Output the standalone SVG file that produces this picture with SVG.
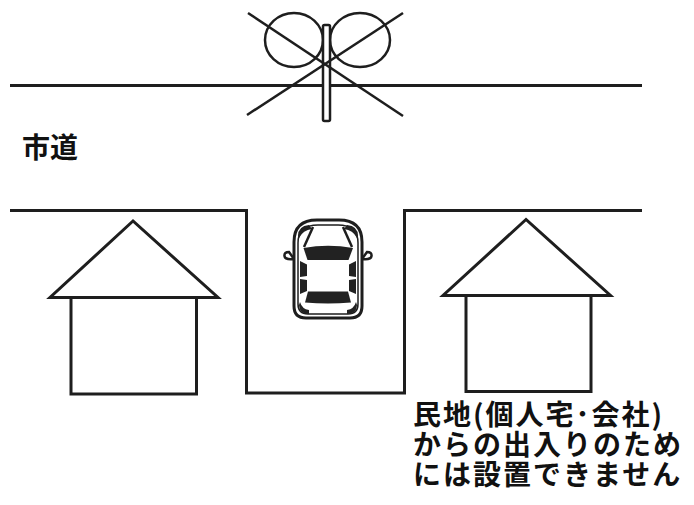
<svg xmlns="http://www.w3.org/2000/svg" width="694" height="505" viewBox="0 0 694 505">
  <style>
    .ln { fill: none; stroke: #1e1e1e; stroke-width: 3; stroke-linejoin: miter; }
    .thin { fill: none; stroke: #1e1e1e; stroke-width: 2.5; }
    .wh { fill: #ffffff; stroke: #1e1e1e; stroke-width: 2.5; }
    .blk { fill: #222222; stroke: none; }
    .lbl { font-family: "Noto Sans CJK JP", "Noto Sans", sans-serif; font-weight: bold; fill: #111111; }
  </style>
  <rect width="694" height="505" fill="#ffffff"/>

  <!-- road edge and frontage -->
  <g id="road">
    <line class="ln" x1="10" y1="85.5" x2="642" y2="85.5"/>
    <path class="ln" d="M10,210.5 H246.5 V393 H404.5 V210.5 H642"/>
  </g>

  <!-- crossed-out curve mirror -->
  <g id="mirror">
    <ellipse class="thin" cx="294" cy="40" rx="29" ry="27"/>
    <ellipse class="thin" cx="360" cy="40" rx="30" ry="27"/>
    <rect class="wh" x="323" y="25" width="7" height="96" rx="1.5"/>
    <line class="thin" x1="248" y1="13" x2="403" y2="116"/>
    <line class="thin" x1="403" y1="13" x2="247" y2="115"/>
  </g>

  <text id="label-road" class="lbl" x="22" y="158" font-size="28">市道</text>

  <!-- house on the left -->
  <g id="house-left">
    <polygon class="ln" points="133,221 50,297.5 218,297.5"/>
    <rect class="ln" x="71" y="297.5" width="125.5" height="96.5"/>
  </g>

  <!-- house on the right -->
  <g id="house-right">
    <polygon class="ln" points="526,219.5 443,295.5 610.5,295.5"/>
    <rect class="ln" x="466" y="295.5" width="125" height="96"/>
  </g>

  <!-- car seen from above -->
  <g id="car">
    <path class="wh" d="M289,252 Q284,252 284.5,256 Q285,260 294,259 Z"/>
    <path class="wh" d="M367,252 Q372,252 371.5,256 Q371,260 362,259 Z"/>
    <path fill="#ffffff" stroke="#1e1e1e" stroke-width="3" d="M306,318 Q294,318 294,306 L294,242 Q294,220 317,220 L339,220 Q362,220 362,242 L362,306 Q362,318 350,318 Z"/>
    <path fill="none" stroke="#1e1e1e" stroke-width="1.5" d="M308,314 Q298,314 298,304 L298,243 Q298,225 318,225 L338,225 Q358,225 358,243 L358,304 Q358,314 348,314 Z"/>
    <path class="blk" d="M298,236 Q298,226 309,225 L312,229 Q303,230 299,238 Z"/>
    <path class="blk" d="M358,236 Q358,226 347,225 L344,229 Q353,230 357,238 Z"/>
    <path class="blk" d="M299,305 Q299,314 309,314 L309,310 Q302,309 300,302 Z"/>
    <path class="blk" d="M357,305 Q357,314 347,314 L347,310 Q354,309 356,302 Z"/>
    <line class="thin" x1="313" y1="227" x2="304" y2="247"/>
    <line class="thin" x1="343" y1="227" x2="352" y2="247"/>
    <path class="blk" d="M303.5,248 Q328,243.5 353,248 L348.5,260 L307.5,260 Z"/>
    <path class="blk" d="M300,261 L307,264.5 L307,276 L300,277 Z"/>
    <path class="blk" d="M300,279 L307,280 L307,291 L300,294 Z"/>
    <path class="blk" d="M356,261 L349,264.5 L349,276 L356,277 Z"/>
    <path class="blk" d="M356,279 L349,280 L349,291 L356,294 Z"/>
    <path class="blk" d="M308,291.5 L348,291.5 L351,302.5 Q328,304.5 305,302.5 Z"/>
  </g>

  <g id="notice" class="lbl" font-size="28" letter-spacing="2">
    <text x="413" y="425">民地(個人宅･会社)</text>
    <text x="413" y="455">からの出入りのため</text>
    <text x="413" y="485">には設置できません</text>
  </g>
</svg>
